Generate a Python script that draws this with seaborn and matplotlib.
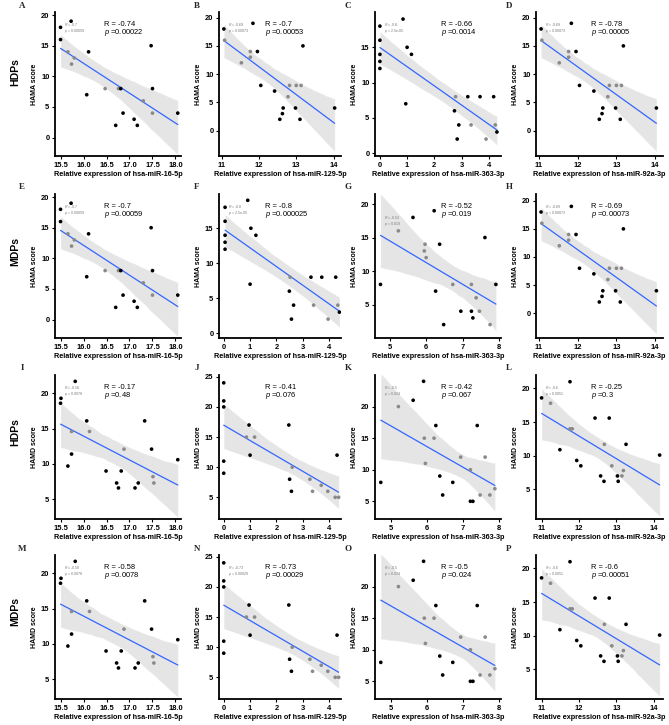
import matplotlib
matplotlib.use('Agg')
import matplotlib.pyplot as plt
import seaborn as sns
import pandas as pd
from matplotlib.ticker import FormatStrFormatter

sns.set_theme(style='white')
plt.rcParams['font.family'] = ['Liberation Sans', 'DejaVu Sans']
plt.rcParams['mathtext.fontset'] = 'custom'
plt.rcParams['mathtext.it'] = 'Liberation Sans:italic'
plt.rcParams['mathtext.rm'] = 'Liberation Sans'

# ---------------- data ----------------
# hsa-miR-16-5p vs HAMA (A, E)
x16 = [15.50, 15.73, 15.50, 15.66, 15.80, 15.74, 16.11, 16.07, 16.47, 16.76,
       16.81, 17.30, 16.86, 16.70, 17.10, 17.17, 17.47, 17.50, 17.50, 18.05]
y16 = [18, 19, 16, 14, 13, 12, 14, 7, 8, 8, 8, 6, 4, 2, 3, 2, 15, 8, 4, 4]
g16 = [0, 0, 0, 1, 1, 1, 0, 0, 1, 1, 0, 1, 0, 0, 0, 0, 0, 0, 1, 0]

# 11-14 range vs HAMA (B, D, H)
x92 = [11.06, 11.84, 11.08, 11.77, 11.77, 11.96, 11.53, 12.05, 12.42, 12.82,
       13.00, 13.13, 12.78, 12.65, 12.63, 12.56, 12.98, 13.10, 13.18, 14.03]
y92 = [18, 19, 16, 14, 13, 14, 12, 8, 7, 8, 8, 8, 6, 4, 3, 2, 4, 2, 15, 4]
g92 = [0, 0, 1, 1, 1, 0, 1, 0, 0, 1, 1, 1, 1, 0, 0, 0, 0, 0, 0, 0]

# 0-4 range vs HAMA (C)
xC = [0, 0, 0, 0, 0, 0.85, 1.00, 1.16, 0.95, 2.78,
      2.74, 2.90, 2.84, 3.23, 3.68, 4.18, 3.35, 3.90, 4.24, 4.30]
yC = [18, 16, 14, 13, 12, 19, 15, 14, 7, 8, 6, 4, 2, 8, 8, 8, 4, 2, 4, 3]
gC = [0, 0, 0, 0, 0, 0, 0, 0, 0, 1, 0, 0, 0, 0, 0, 0, 1, 1, 1, 0]

# 0-4 range vs HAMA (F)
xF = [0.05, 0.05, 0.05, 0.05, 0.05, 0.91, 1.03, 1.22, 1.00, 2.52,
      2.49, 2.65, 2.57, 3.31, 3.72, 4.25, 3.41, 3.96, 4.33, 4.39]
yF = [18, 16, 14, 13, 12, 19, 15, 14, 7, 8, 6, 4, 2, 8, 8, 8, 4, 2, 4, 3]
gF = [0, 0, 0, 0, 0, 0, 0, 0, 0, 1, 0, 0, 0, 0, 0, 0, 1, 1, 1, 0]

# 5-8 range vs HAMA (G)
xG = [4.75, 5.24, 5.64, 6.22, 5.97, 5.95, 6.00, 6.37, 6.26, 6.48,
      6.73, 6.95, 7.24, 7.28, 7.24, 7.37, 7.46, 7.61, 7.75, 7.91]
yG = [8, 16, 18, 19, 14, 13, 12, 14, 7, 2, 8, 4, 4, 3, 8, 6, 4, 15, 2, 8]
gG = [0, 1, 0, 0, 1, 1, 1, 0, 0, 0, 1, 0, 0, 0, 1, 1, 1, 0, 1, 0]

# hsa-miR-16-5p vs HAMD (I, M)
xI = [15.82, 15.51, 15.50, 15.74, 15.66, 15.74, 16.07, 16.13, 16.49, 16.72,
      16.76, 16.82, 16.88, 17.12, 17.19, 17.33, 17.48, 17.51, 17.53, 18.05]
yI = [21.7, 19.3, 18.6, 14.6, 9.7, 11.4, 16.1, 14.6, 9.0, 7.3,
      6.6, 9.0, 12.1, 6.6, 7.3, 16.1, 12.1, 8.2, 7.3, 10.6]
gI = [0, 0, 0, 1, 0, 0, 0, 1, 0, 0, 0, 0, 1, 0, 0, 0, 0, 1, 1, 0]

# 0-4 range vs HAMD (J, N)
xJ = [0, 0, 0, 0, 0, 0.96, 0.86, 1.17, 1.00, 2.47,
      2.50, 2.57, 2.60, 3.27, 3.37, 3.70, 3.95, 4.23, 4.30, 4.36]
yJ = [24, 21, 20, 11, 9, 17, 15, 15, 12, 17, 8, 6, 10, 8, 6, 7, 6, 5, 12, 5]
gJ = [0, 0, 0, 0, 0, 0, 1, 1, 0, 0, 0, 0, 1, 1, 1, 1, 1, 1, 0, 1]

# 5-8 range vs HAMD (K, O)
xK = [4.71, 5.20, 5.61, 5.90, 5.92, 5.95, 6.19, 6.24, 6.35, 6.43,
      6.71, 6.93, 7.20, 7.20, 7.27, 7.39, 7.47, 7.61, 7.74, 7.88]
yK = [8, 20, 21, 24, 15, 11, 15, 17, 9, 6, 8, 12, 10, 5, 5, 17, 6, 12, 6, 7]
gK = [0, 1, 0, 0, 1, 1, 1, 0, 0, 0, 0, 1, 1, 0, 0, 0, 1, 1, 1, 1]

# 11-14 range vs HAMD (L, P)
xL = [11.00, 11.24, 11.76, 11.49, 11.76, 11.82, 11.94, 12.05, 12.43, 12.68,
      12.81, 12.88, 12.58, 12.67, 13.03, 13.05, 13.15, 13.19, 13.26, 14.16]
yL = [18.6, 17.8, 21.0, 10.9, 14.0, 14.0, 9.3, 8.5, 15.6, 11.7,
      15.6, 8.5, 7.0, 6.2, 7.0, 6.2, 7.0, 7.8, 11.7, 10.1]
gL = [0, 1, 0, 0, 1, 1, 0, 0, 0, 1, 0, 1, 0, 0, 0, 0, 1, 1, 0, 0]

letters = list('ABCDEFGHIJKLMNOP')
row_labels = ['HDPs', 'MDPs', 'HDPs', 'MDPs']
y_labels = ['HAMA score', 'HAMA score', 'HAMD score', 'HAMD score']
x_labels = ['Relative expression of hsa-miR-16-5p',
            'Relative expression of hsa-miR-129-5p',
            'Relative expression of hsa-miR-363-3p',
            'Relative expression of hsa-miR-92a-3p']
r_main = ['-0.74', '-0.7', '-0.66', '-0.78', '-0.7', '-0.8', '-0.52', '-0.69',
          '-0.17', '-0.41', '-0.42', '-0.25', '-0.58', '-0.73', '-0.5', '-0.6']
p_main = ['0.00022', '0.00053', '0.0014', '0.00005', '0.00059', '0.000025', '0.019', '0.00073',
          '0.48', '0.076', '0.067', '0.3', '0.0078', '0.00029', '0.024', '0.00051']
r_small = ['-0.7', '-0.69', '-0.8', '-0.69', '-0.7', '-0.8', '-0.52', '-0.69',
           '-0.58', None, '-0.5', '-0.6', '-0.58', '-0.73', '-0.5', '-0.6']
p_small = ['0.00059', '0.00073', '2.5e-05', '0.00073', '0.00059', '2.5e-05', '0.019', '0.00073',
           '0.0078', None, '0.024', '0.0051', '0.0078', '0.00029', '0.024', '0.0051']

datasets = [(x16, y16, g16), (x92, y92, g92), (xC, yC, gC), (x92, y92, g92),
            (x16, y16, g16), (xF, yF, gF), (xG, yG, gG), (x92, y92, g92),
            (xI, yI, gI), (xJ, yJ, gJ), (xK, yK, gK), (xL, yL, gL),
            (xI, yI, gI), (xJ, yJ, gJ), (xK, yK, gK), (xL, yL, gL)]

# axis settings per panel
xlims = [(15.38, 18.12), (10.93, 14.2), (-0.18, 4.45), (10.93, 14.2),
         (15.38, 18.12), (-0.18, 4.45), (4.6, 8.05), (10.93, 14.2),
         (15.38, 18.12), (-0.18, 4.45), (4.55, 8.05), (10.85, 14.25),
         (15.38, 18.12), (-0.18, 4.45), (4.55, 8.05), (10.85, 14.25)]
ylims = [(-3, 20.5), (-4.5, 21), (-0.4, 20), (-4.5, 21),
         (-3, 20.5), (-0.7, 19.9), (0, 21.5), (-4.4, 21.2),
         (2.2, 22.6), (1.4, 25.3), (2.2, 25), (0.6, 22),
         (2.2, 22.6), (1.4, 25.3), (2.2, 25), (0.6, 22)]
xt16 = [15.5, 16.0, 16.5, 17.0, 17.5, 18.0]
xt92 = [11, 12, 13, 14]
xt04 = [0, 1, 2, 3, 4]
xt58 = [5, 6, 7, 8]
xticks = [xt16, xt92, xt04, xt92, xt16, xt04, xt58, xt92,
          xt16, xt04, xt58, xt92, xt16, xt04, xt58, xt92]
yt_a = [0, 5, 10, 15, 20]
yt_c = [0, 5, 10, 15]
yt_d = [5, 10, 15, 20]
yt_j = [5, 10, 15, 20, 25]
yticks = [yt_a, yt_a, yt_c, yt_a, yt_a, yt_c, yt_d, yt_a,
          yt_d, yt_j, yt_d, yt_d, yt_d, yt_j, yt_d, yt_d]

# ---------------- layout ----------------
W, H = 669, 725
fig = plt.figure(figsize=(W / 100, H / 100), dpi=100)
col_left = [55, 219, 375, 536]
col_w = [126, 122, 126, 127]
row_top = [12, 194, 375, 555]
row_h = 144
ann_x = [0.39, 0.38, 0.52, 0.43]
letter_x = [22, 197, 348, 509]
letter_y = [6, 187, 368, 549]

for i in range(16):
    r, c = divmod(i, 4)
    l, t, w = col_left[c], row_top[r], col_w[c]
    ax = fig.add_axes([l / W, 1 - (t + row_h) / H, w / W, row_h / H])
    xs, ys, gs = datasets[i]
    df = pd.DataFrame({'x': xs, 'y': ys, 'g': gs})
    sns.regplot(data=df, x='x', y='y', ax=ax, scatter=False, ci=95, n_boot=1000, seed=1,
                color='#555555', truncate=True, line_kws=dict(lw=0.9))
    ax.lines[-1].set_color('#3366FF')
    sns.scatterplot(data=df, x='x', y='y', hue='g', palette={0: 'black', 1: '#8a8a8a'},
                    s=7, linewidth=0, legend=False, ax=ax, zorder=3)
    ax.set_xlim(*xlims[i])
    ax.set_ylim(*ylims[i])
    ax.set_xticks(xticks[i])
    ax.set_yticks(yticks[i])
    if c == 0:
        ax.xaxis.set_major_formatter(FormatStrFormatter('%.1f'))
    for s in ['top', 'right']:
        ax.spines[s].set_visible(False)
    for s in ['left', 'bottom']:
        ax.spines[s].set_color('black')
        ax.spines[s].set_linewidth(1.3)
    ax.tick_params(axis='both', length=2, width=0.8, color='black', pad=2,
                   labelsize=5.4, labelcolor='black', left=True, bottom=True)
    for lab in ax.get_xticklabels() + ax.get_yticklabels():
        lab.set_fontweight('bold')
    ax.set_xlabel(x_labels[c], fontsize=5.2, fontweight='bold', color='black', labelpad=1.5)
    ax.set_ylabel(y_labels[r], fontsize=5.0, fontweight='bold', color='black', labelpad=2)
    ax.grid(False)

    ax.text(ann_x[c], 0.91, f'R = {r_main[i]}', transform=ax.transAxes,
            fontsize=5.4, color='black', ha='left', va='center')
    ax.text(ann_x[c], 0.855, r'$\it{p}$' + f' ={p_main[i]}', transform=ax.transAxes,
            fontsize=5.4, color='black', ha='left', va='center')
    if r_small[i] is not None:
        sy = 0.84 if i == 6 else 0.915
        ax.text(0.07, sy, r'$\it{R}$' + f' = {r_small[i]}', transform=ax.transAxes,
                fontsize=2.6, color='#777777', ha='left', va='center')
        ax.text(0.07, sy - 0.045, r'$\it{p}$' + f' = {p_small[i]}', transform=ax.transAxes,
                fontsize=2.6, color='#777777', ha='left', va='center')

    fig.text(letter_x[c] / W, 1 - letter_y[r] / H, letters[i], family='Liberation Serif',
             weight='bold', fontsize=6.5, ha='center', va='center')

row_label_y = [72, 252, 432, 612]
for r in range(4):
    fig.text(15 / W, 1 - row_label_y[r] / H, row_labels[r], rotation=90, fontsize=7.5,
             fontweight='bold', ha='center', va='center', color='black')

fig.savefig('out.png', dpi=100)
